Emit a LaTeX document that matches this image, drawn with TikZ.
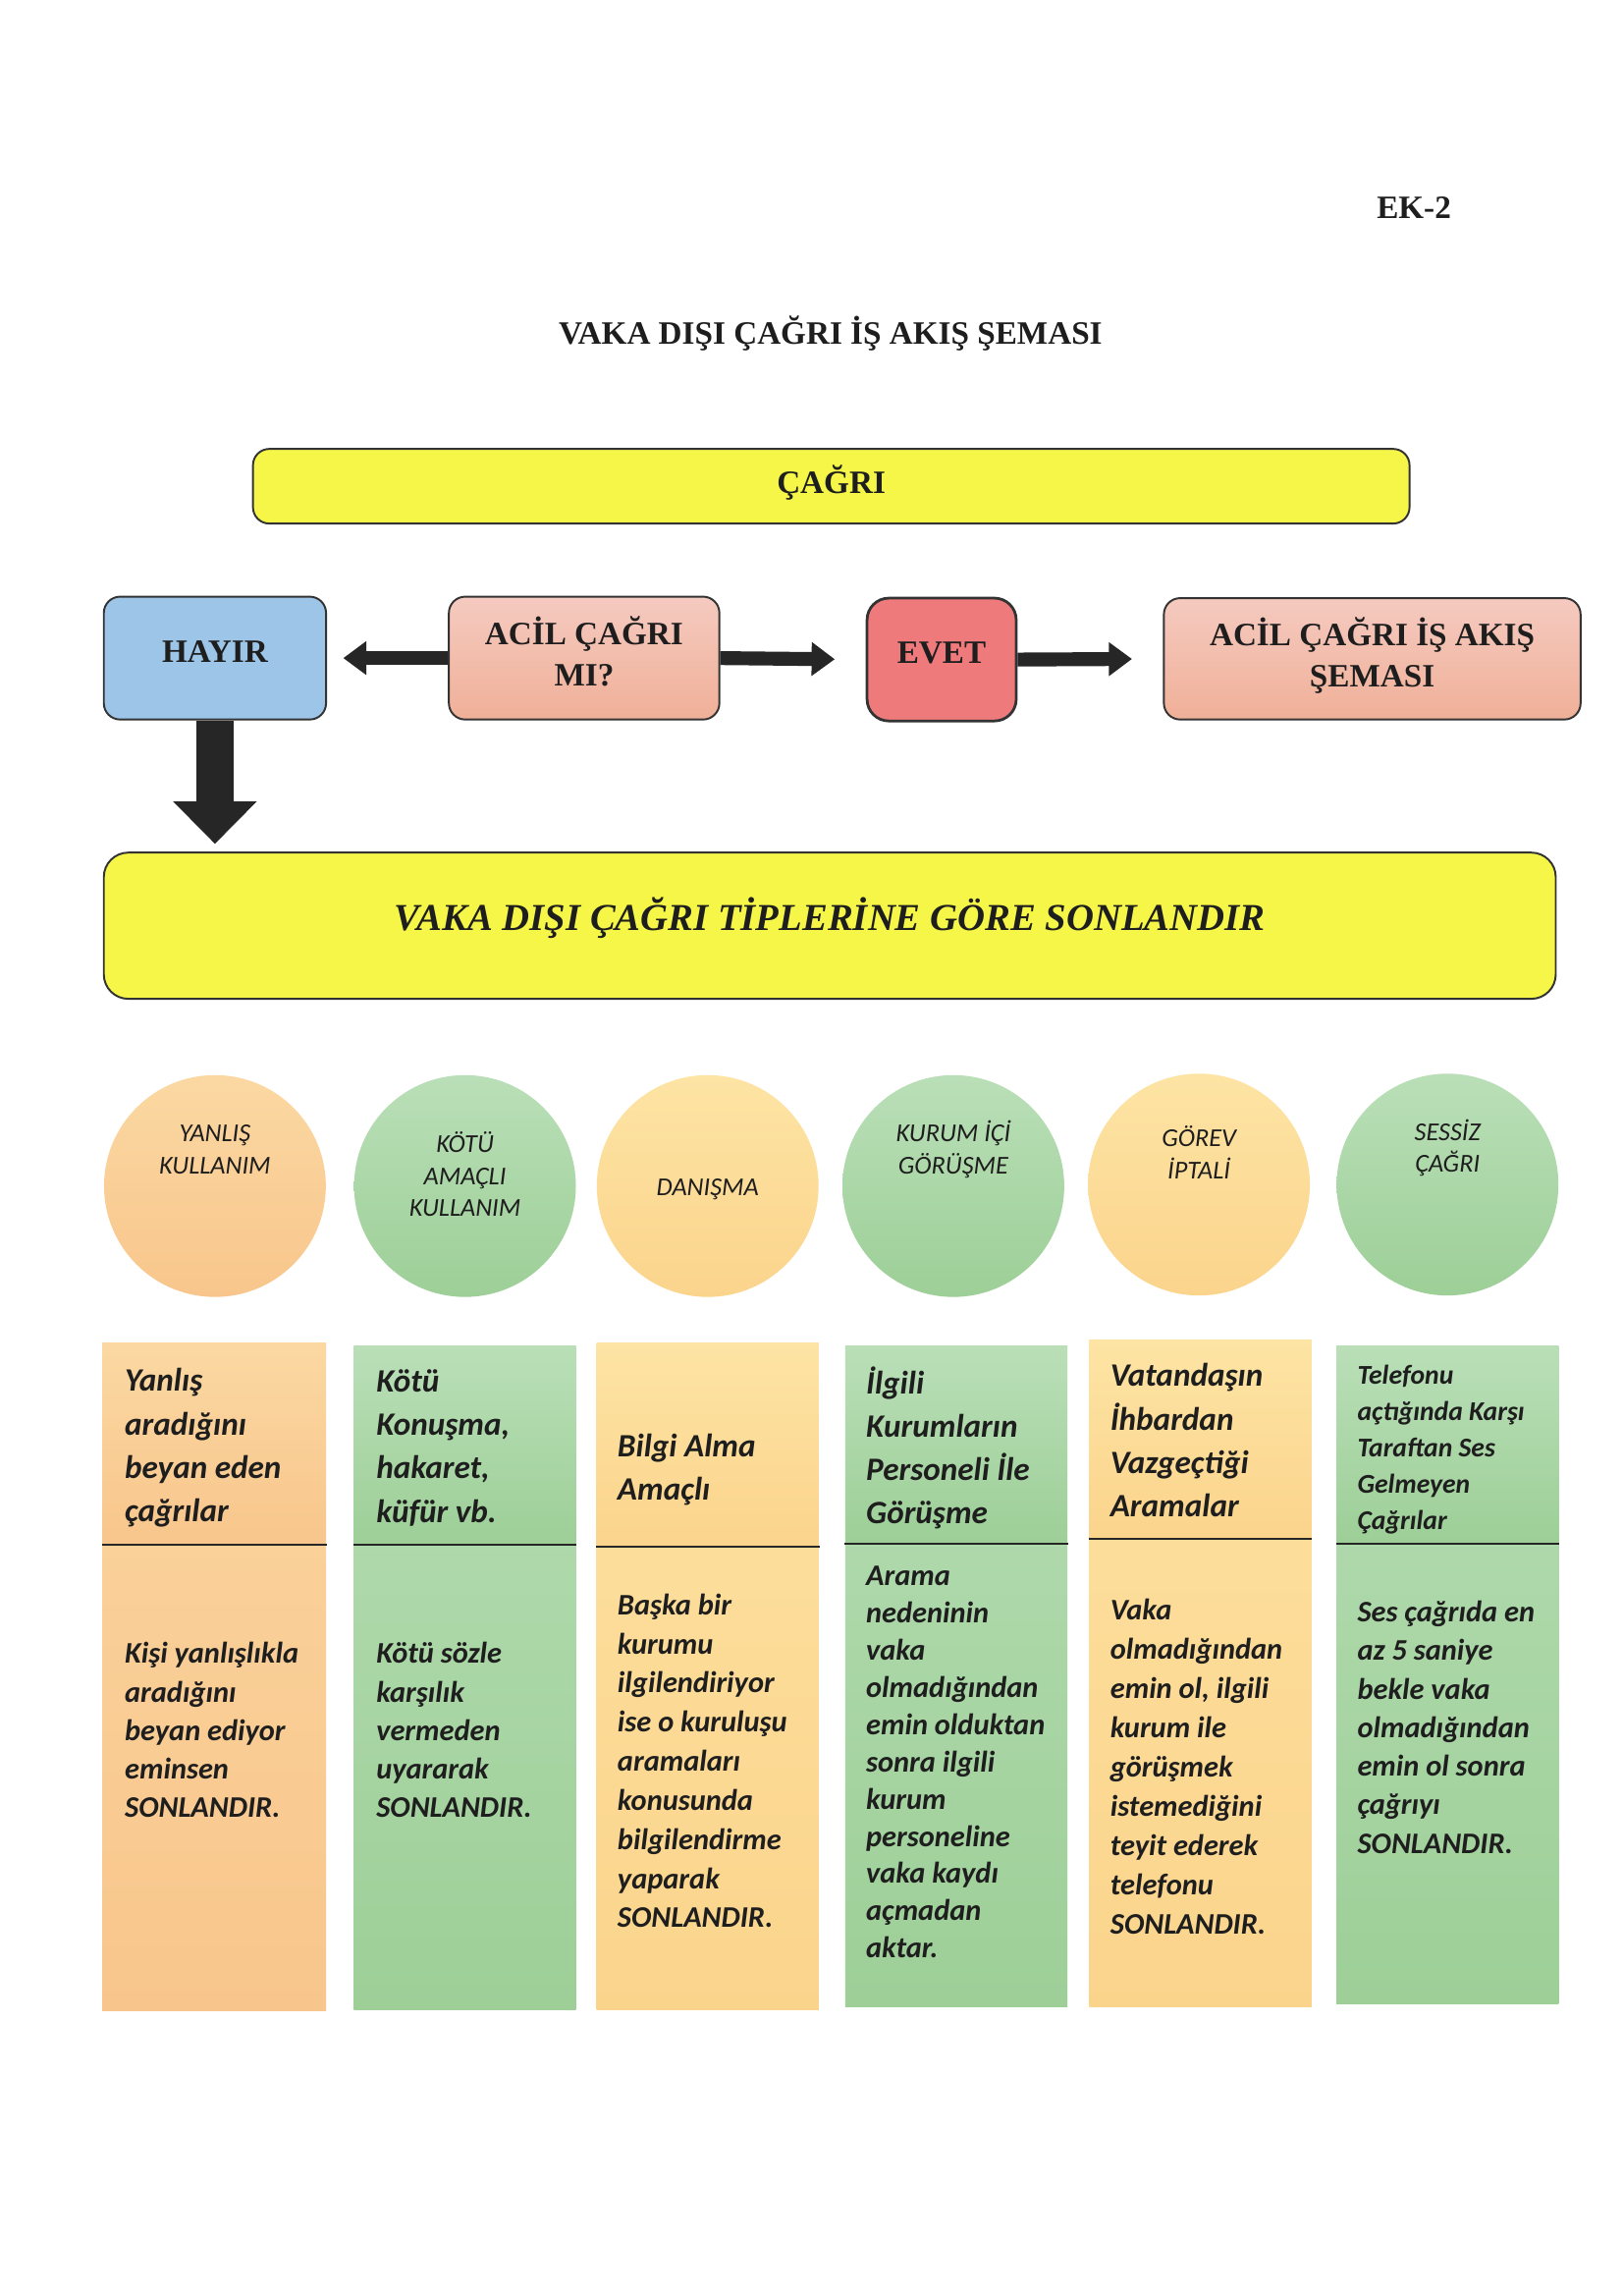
\documentclass[tikz,border=0pt]{standalone}
\usepackage{fontspec}
\setmainfont{Liberation Serif}
\newfontfamily\calib{Carlito}
\usetikzlibrary{arrows.meta,fit,positioning}

\definecolor{sarilik}{RGB}{246,246,72}
\definecolor{mavi}{RGB}{157,197,232}
\definecolor{pembeA}{RGB}{245,202,192}
\definecolor{pembeB}{RGB}{240,176,152}
\definecolor{kirmizi}{RGB}{238,122,124}
\definecolor{turuncuA}{RGB}{251,216,162}
\definecolor{turuncuB}{RGB}{248,198,140}
\definecolor{yesilA}{RGB}{186,223,184}
\definecolor{yesilB}{RGB}{157,207,151}
\definecolor{sariA}{RGB}{253,228,164}
\definecolor{sariB}{RGB}{251,212,140}
\definecolor{yazi}{RGB}{30,30,30}

\newcommand{\pxu}{0.01892cm}

\tikzset{
	flowbox/.style={draw=black!80, line width=0.7pt, rounded corners=6pt, inner sep=0pt, align=center, text=yazi, text depth=5pt, font=\bfseries\fontsize{12}{15}\selectfont},
	pinkbox/.style={flowbox, top color=pembeA, bottom color=pembeB},
	fatarrow/.style={draw=black!85, line width=0.18cm, -{Triangle[length=0.3cm,width=0.42cm]}},
	downarrow/.style={draw=black!85, line width=0.49cm, -{Triangle[length=0.55cm,width=1.05cm]}},
	tipcircle/.style={circle, minimum size=2.87cm, inner sep=0pt},
	circtext/.style={align=center, text=yazi, inner sep=0pt, font=\calib\itshape\fontsize{9.5}{11.8}\selectfont},
	colpart/.style={inner sep=0pt},
	coltext/.style={anchor=west, align=left, inner sep=0pt, text=yazi},
	bigtext/.style={font=\calib\bfseries\itshape\fontsize{12}{16}\selectfont},
	smalltext/.style={font=\calib\bfseries\itshape\fontsize{11}{14.2}\selectfont}
}

\begin{document}
\begin{tikzpicture}[x=0.01892cm, y=-0.01892cm]
	\useasboundingbox[fill=white] (0,0) rectangle (1110,1570);
	
	%%%%% BASLIK %%%%%
	\node[font=\bfseries\fontsize{12}{14}\selectfont, text=yazi] (ek) at (967,142) {EK-2};
	\node[font=\bfseries\fontsize{12}{14}\selectfont, text=yazi] (baslik) at (568,228) {VAKA DIŞI ÇAĞRI İŞ AKIŞ ŞEMASI};
	
	\node[flowbox, fill=sarilik, minimum width=791*\pxu, minimum height=51*\pxu] (cagri) at (568.5,332.5) {ÇAĞRI};
	
	\node[flowbox, fill=mavi, minimum width=152*\pxu, minimum height=84*\pxu] (hayir) at (147,450) {HAYIR};
	\node[pinkbox, minimum width=185*\pxu, minimum height=84*\pxu] (acil) at (399.5,450) {ACİL ÇAĞRI\\MI?};
	\node[flowbox, fill=kirmizi, rounded corners=8pt, line width=1pt, minimum width=102*\pxu, minimum height=84*\pxu] (evet) at (644,451) {EVET};
	\node[pinkbox, minimum width=285*\pxu, minimum height=83*\pxu] (akis) at (938.5,450.5) {ACİL ÇAĞRI İŞ AKIŞ\\ŞEMASI};
	
	\draw[fatarrow, shorten >=0.21cm] (acil.west) -- (hayir.east);
	\draw[fatarrow, shorten >=0.4cm] (acil.east) -- (evet.west);
	\draw[fatarrow, shorten >=0.4cm] (evet.east) -- (akis.west);
	
	\node[flowbox, fill=sarilik, rounded corners=9pt, text depth=9pt, font=\bfseries\itshape\fontsize{14}{16}\selectfont, minimum width=993*\pxu, minimum height=100*\pxu] (sonlandir) at (567.5,633) {VAKA DIŞI ÇAĞRI TİPLERİNE GÖRE SONLANDIR};
	\draw[downarrow, shorten >=0.1cm] (hayir.south) -- (hayir.south |- sonlandir.north);
	
	%%%%% TIPLER %%%%%
	\node[tipcircle, top color=turuncuA, bottom color=turuncuB] (yanlis) at (147,811) {};
	\node[tipcircle, top color=yesilA, bottom color=yesilB] (kotu) at (318,811) {};
	\node[tipcircle, top color=sariA, bottom color=sariB] (danisma) at (484,811) {};
	\node[tipcircle, top color=yesilA, bottom color=yesilB] (kurum) at (652,811) {};
	\node[tipcircle, top color=sariA, bottom color=sariB] (gorev) at (820,810) {};
	\node[tipcircle, top color=yesilA, bottom color=yesilB] (sessiz) at (990,810) {};
	
	\node[circtext] (yanlisT) at (147,786) {YANLIŞ\\KULLANIM};
	\node[circtext] (kotuT) at (318,803) {KÖTÜ\\AMAÇLI\\KULLANIM};
	\node[circtext] (danismaT) at (484,813) {DANIŞMA};
	\node[circtext] (kurumT) at (652,786) {KURUM İÇİ\\GÖRÜŞME};
	\node[circtext] (gorevT) at (820,788) {GÖREV\\İPTALİ};
	\node[circtext] (sessizT) at (990,785) {SESSİZ\\ÇAĞRI};
	
	%%%%% SUTUNLAR %%%%%
	\node[colpart, top color=turuncuA, bottom color=turuncuB, fit={(70,918) (223,1056)}] (ust1) {};
	\node[colpart, top color=turuncuA!60!turuncuB, bottom color=turuncuB, fit={(70,1056) (223,1375)}] (alt1) {};
	\node[colpart, top color=yesilA, bottom color=yesilB, fit={(242,920) (394,1056)}] (ust2) {};
	\node[colpart, top color=yesilA!60!yesilB, bottom color=yesilB, fit={(242,1056) (394,1374)}] (alt2) {};
	\node[colpart, top color=sariA, bottom color=sariB, fit={(408,918) (560,1057)}] (ust3) {};
	\node[colpart, top color=sariA!60!sariB, bottom color=sariB, fit={(408,1057) (560,1374)}] (alt3) {};
	\node[colpart, top color=yesilA, bottom color=yesilB, fit={(578,920) (730,1055)}] (ust4) {};
	\node[colpart, top color=yesilA!60!yesilB, bottom color=yesilB, fit={(578,1055) (730,1372)}] (alt4) {};
	\node[colpart, top color=sariA, bottom color=sariB, fit={(745,916) (897,1052)}] (ust5) {};
	\node[colpart, top color=sariA!60!sariB, bottom color=sariB, fit={(745,1052) (897,1372)}] (alt5) {};
	\node[colpart, top color=yesilA, bottom color=yesilB, fit={(914,920) (1066,1055)}] (ust6) {};
	\node[colpart, top color=yesilA!60!yesilB, bottom color=yesilB, fit={(914,1055) (1066,1370)}] (alt6) {};
	
	\draw[black!85, line width=0.8pt] (ust1.south west) -- (ust1.south east);
	\draw[black!85, line width=0.8pt] (ust2.south west) -- (ust2.south east);
	\draw[black!85, line width=0.8pt] (ust3.south west) -- (ust3.south east);
	\draw[black!85, line width=0.8pt] (ust4.south west) -- (ust4.south east);
	\draw[black!85, line width=0.8pt] (ust5.south west) -- (ust5.south east);
	\draw[black!85, line width=0.8pt] (ust6.south west) -- (ust6.south east);
	
	\node[coltext, bigtext] (ust1T) at (85,990) {Yanlış\\aradığını\\beyan eden\\çağrılar};
	\node[coltext, smalltext] (alt1T) at (85,1183) {Kişi yanlışlıkla\\aradığını\\beyan ediyor\\eminsen\\SONLANDIR.};
	
	\node[coltext, bigtext] (ust2T) at (257,990) {Kötü\\Konuşma,\\hakaret,\\küfür vb.};
	\node[coltext, smalltext] (alt2T) at (257,1183) {Kötü sözle\\karşılık\\vermeden\\uyararak\\SONLANDIR.};
	
	\node[coltext, bigtext] (ust3T) at (422,1005) {Bilgi Alma\\Amaçlı};
	\node[coltext, smalltext, font=\calib\bfseries\itshape\fontsize{11}{14.4}\selectfont] (alt3T) at (422,1204) {Başka bir\\kurumu\\ilgilendiriyor\\ise o kuruluşu\\aramaları\\konusunda\\bilgilendirme\\yaparak\\SONLANDIR.};
	
	\node[coltext, bigtext] (ust4T) at (592,990) {İlgili\\Kurumların\\Personeli İle\\Görüşme};
	\node[coltext, smalltext, font=\calib\bfseries\itshape\fontsize{11}{13.7}\selectfont] (alt4T) at (592,1205) {Arama\\nedeninin\\vaka\\olmadığından\\emin olduktan\\sonra ilgili\\kurum\\personeline\\vaka kaydı\\açmadan\\aktar.};
	
	\node[coltext, bigtext] (ust5T) at (759,985) {Vatandaşın\\İhbardan\\Vazgeçtiği\\Aramalar};
	\node[coltext, smalltext, font=\calib\bfseries\itshape\fontsize{11}{14.5}\selectfont] (alt5T) at (759,1208) {Vaka\\olmadığından\\emin ol, ilgili\\kurum ile\\görüşmek\\istemediğini\\teyit ederek\\telefonu\\SONLANDIR.};
	
	\node[coltext, font=\calib\bfseries\itshape\fontsize{10}{13.4}\selectfont] (ust6T) at (928,991) {Telefonu\\açtığında Karşı\\Taraftan Ses\\Gelmeyen\\Çağrılar};
	\node[coltext, smalltext] (alt6T) at (928,1181) {Ses çağrıda en\\az 5 saniye\\bekle vaka\\olmadığından\\emin ol sonra\\çağrıyı\\SONLANDIR.};
\end{tikzpicture}
\end{document}
